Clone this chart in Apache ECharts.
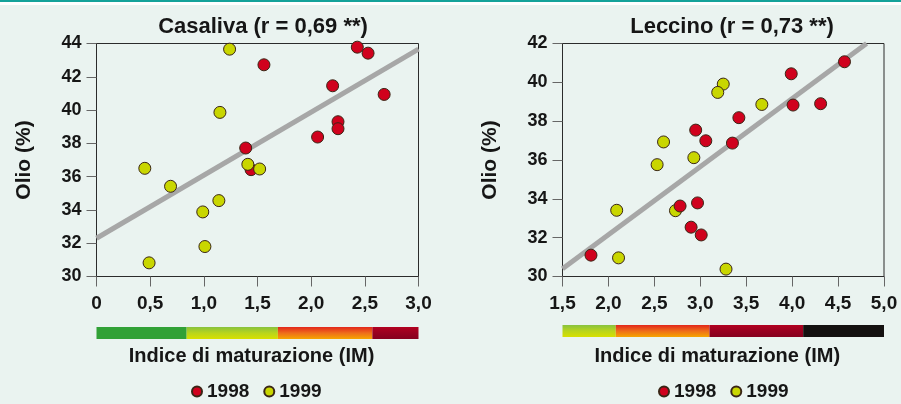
<!DOCTYPE html>
<html>
<head>
<meta charset="utf-8">
<script src="https://cdn.jsdelivr.net/npm/echarts@6/dist/echarts.min.js"></script>
<style>
html,body{margin:0;padding:0;background:#eaf3f0;}
#chart{width:901px;height:404px;}
</style>
</head>
<body>
<div id="chart"></div>
<script>
// ---- Data ----
var casalivaTitle = 'Casaliva (r = 0,69 **)';
var leccinoTitle = 'Leccino (r = 0,73 **)';
var yAxisName = 'Olio (%)';
var xAxisName = 'Indice di maturazione (IM)';
var seriesNames = ['1998', '1999'];

var casalivaXTicks = ['0', '0,5', '1,0', '1,5', '2,0', '2,5', '3,0'];
var leccinoXTicks = ['1,5', '2,0', '2,5', '3,0', '3,5', '4,0', '4,5', '5,0'];

var casaliva1998 = [
  [1.56, 42.72], [1.39, 37.72], [1.44, 36.42], [2.06, 38.38], [2.20, 41.46],
  [2.25, 39.30], [2.25, 38.88], [2.43, 43.78], [2.53, 43.42], [2.68, 40.94]
];
var casaliva1999 = [
  [1.24, 43.66], [1.15, 39.86], [0.45, 36.50], [0.69, 35.42], [1.14, 34.56],
  [0.99, 33.88], [1.01, 31.80], [0.49, 30.82], [1.41, 36.74], [1.52, 36.46]
];
var casalivaFit = [[0, 32.3], [3, 43.66]];

var leccino1998 = [
  [4.57, 41.06], [3.99, 40.44], [4.01, 38.83], [4.31, 38.90], [3.42, 38.18],
  [2.95, 37.54], [3.06, 36.99], [3.35, 36.87], [2.78, 33.63], [2.97, 33.79],
  [2.90, 32.54], [3.01, 32.14], [1.81, 31.10]
];
var leccino1999 = [
  [3.25, 39.91], [3.19, 39.48], [3.67, 38.86], [2.60, 36.93], [2.53, 35.76],
  [2.93, 36.12], [2.09, 33.41], [2.73, 33.39], [2.11, 30.96], [3.28, 30.38]
];
var leccinoFit = [[1.5, 30.4], [4.81, 42.0]];

// maturity-index colour bands (start, end)
var casalivaBands = [[0, 0.84], [0.84, 1.69], [1.69, 2.57], [2.57, 3.0]];
var leccinoBands = [[1.5, 2.08], [2.08, 3.10], [3.10, 4.12], [4.12, 5.0]];

// ---- Styles ----
var RED = '#d0011d', YEL = '#c9d600', EDGE = '#3a2616';
var FONT = 'Liberation Sans';
var TXT = '#161616';
function grad(stops) {
  return new echarts.graphic.LinearGradient(0, 0, 0, 1, stops.map(function (c, i) {
    return { offset: i / (stops.length - 1), color: c };
  }));
}
var G = {
  green: '#31a136',
  ygreen: grad(['#88c23e', '#b9d51c', '#d8e000']),
  orange: grad(['#e2261b', '#ee6d1a', '#f6a500']),
  dred: grad(['#b2001f', '#990020', '#86001e']),
  black: '#141110'
};
var casalivaBandStyle = [G.green, G.ygreen, G.orange, G.dred];
var leccinoBandStyle = [G.ygreen, G.orange, G.dred, G.black];

var plots = [
  { left: 96.5, top: 43.5, width: 322, height: 233 },
  { left: 562.5, top: 43.5, width: 321.5, height: 233 }
];
var xr = [[0, 3], [1.5, 5]];
var yr = [[30, 44], [30, 42]];
var ticks = [casalivaXTicks, leccinoXTicks];
var bandTop = [327, 325];

var grids = [], xAxes = [], yAxes = [], series = [];
plots.forEach(function (p, i) {
  grids.push({ left: p.left, top: p.top, width: p.width, height: p.height, show: true,
    borderColor: '#2b2b2b', borderWidth: 1, backgroundColor: 'transparent' });
  xAxes.push({
    gridIndex: i, type: 'value', min: xr[i][0], max: xr[i][1], interval: 0.5,
    splitLine: { show: false },
    axisLine: { show: true, lineStyle: { color: '#2b2b2b', width: 1 } },
    axisTick: { show: true, inside: false, length: 10, lineStyle: { color: '#666', width: 1 } },
    axisLabel: { margin: 18, color: TXT, fontFamily: FONT, fontWeight: 'bold', fontSize: 19,
      formatter: (function (arr) { return function (v, idx) { return arr[idx]; }; })(ticks[i]) },
    name: xAxisName, nameLocation: 'middle', nameGap: 70,
    nameTextStyle: { color: TXT, fontFamily: FONT, fontWeight: 'bold', fontSize: 20, padding: [0, 12, 0, 0] }
  });
  yAxes.push({
    gridIndex: i, type: 'value', min: yr[i][0], max: yr[i][1], interval: 2,
    splitLine: { show: false },
    axisLine: { show: true, lineStyle: { color: '#2b2b2b', width: 1 } },
    axisTick: { show: true, inside: false, length: 10, lineStyle: { color: '#666', width: 1 } },
    axisLabel: { margin: 15, color: TXT, fontFamily: FONT, fontWeight: 'bold', fontSize: 18 },
    name: yAxisName, nameLocation: 'middle', nameGap: 62,
    nameTextStyle: { color: TXT, fontFamily: FONT, fontWeight: 'bold', fontSize: 21 }
  });
});
// band grids
plots.forEach(function (p, i) {
  grids.push({ left: p.left, top: bandTop[i], width: p.width, height: 12 });
  xAxes.push({ gridIndex: 2 + i, type: 'value', min: xr[i][0], max: xr[i][1], show: false });
  yAxes.push({ gridIndex: 2 + i, type: 'value', min: 0, max: 1, show: false });
});

function fitSeries(data, gi) {
  return { type: 'line', xAxisIndex: gi, yAxisIndex: gi, data: data, symbol: 'none', silent: true,
    lineStyle: { color: '#a7a7a7', width: 5 }, z: 1, animation: false };
}
function scat(name, data, gi, color) {
  return { name: name, type: 'scatter', xAxisIndex: gi, yAxisIndex: gi, data: data, symbol: 'circle',
    symbolSize: 12, clip: false, z: 3,
    itemStyle: { color: color, borderColor: EDGE, borderWidth: 1, opacity: 1 } };
}
function bandSeries(bands, styles, gi) {
  return { type: 'custom', xAxisIndex: gi, yAxisIndex: gi, data: bands, silent: true,
    renderItem: function (params, api) {
      var a = api.coord([api.value(0), 1]);
      var b = api.coord([api.value(1), 0]);
      return { type: 'rect', shape: { x: a[0], y: a[1], width: b[0] - a[0], height: b[1] - a[1] },
        style: { fill: styles[params.dataIndex] } };
    } };
}

series.push(fitSeries(casalivaFit, 0));
series.push(scat(seriesNames[1], casaliva1999, 0, YEL));
series.push(scat(seriesNames[0], casaliva1998, 0, RED));
series[series.length - 1].z = 2;
series.push(fitSeries(leccinoFit, 1));
series.push(scat(seriesNames[1], leccino1999, 1, YEL));
series.push(scat(seriesNames[0], leccino1998, 1, RED));
series.push(bandSeries(casalivaBands, casalivaBandStyle, 2));
series.push(bandSeries(leccinoBands, leccinoBandStyle, 3));

function legend(left) {
  return { left: left, top: 377, itemWidth: 10, itemHeight: 10, itemGap: 14, icon: 'circle',
    data: seriesNames, selectedMode: false,
    textStyle: { color: TXT, fontFamily: FONT, fontWeight: 'bold', fontSize: 19 } };
}

var chart = echarts.init(document.getElementById('chart'), null, { renderer: 'canvas' });
chart.setOption({
  backgroundColor: '#eaf3f0',
  animation: false,
  title: [
    { text: casalivaTitle, left: 258, top: 11, textAlign: 'center',
      textStyle: { color: TXT, fontFamily: FONT, fontWeight: 'bold', fontSize: 22 } },
    { text: leccinoTitle, left: 727, top: 11, textAlign: 'center',
      textStyle: { color: TXT, fontFamily: FONT, fontWeight: 'bold', fontSize: 22 } }
  ],
  legend: [legend(186), legend(653)],
  graphic: [
    { type: 'rect', left: 0, top: 0, shape: { width: 901, height: 5 }, style: { fill: '#ffffff' }, silent: true },
    { type: 'rect', left: 0, top: 0, shape: { width: 901, height: 2 }, style: { fill: '#14a29a' }, silent: true }
  ],
  grid: grids, xAxis: xAxes, yAxis: yAxes, series: series
});
</script>
</body>
</html>
